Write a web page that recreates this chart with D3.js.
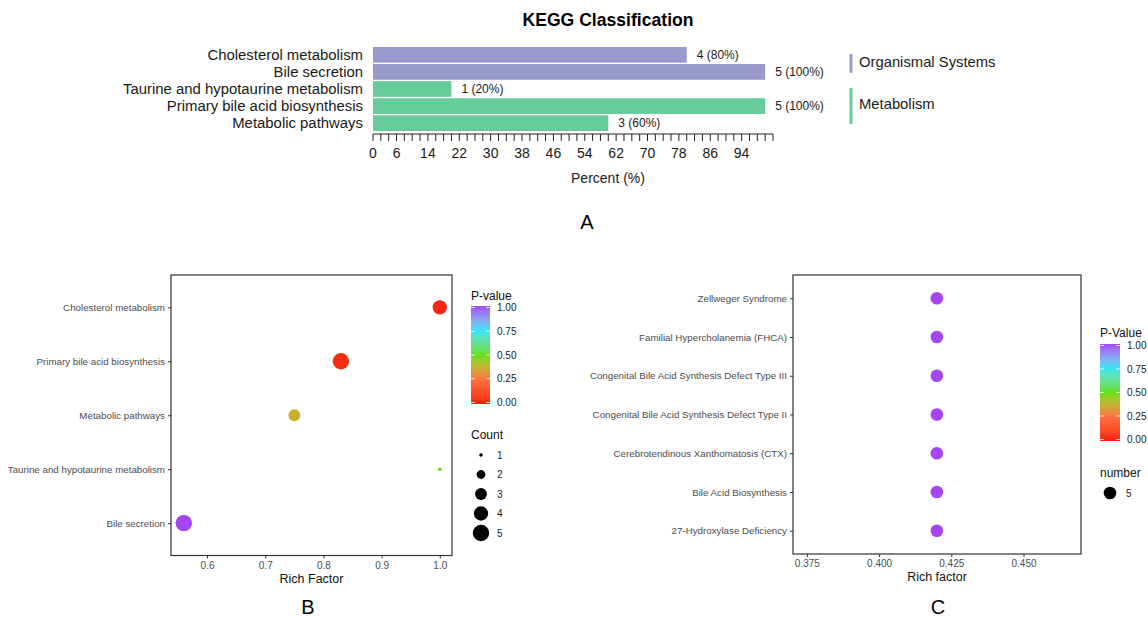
<!DOCTYPE html>
<html>
<head>
<meta charset="utf-8">
<script src="https://cdn.jsdelivr.net/npm/d3@7"></script>
<style>
body { margin: 0; background: #fff; }
svg { font-family: "Liberation Sans", Arial, Helvetica, sans-serif; }
</style>
</head>
<body>
<svg id="chart" width="1148" height="617"></svg>
<script>
// ---- data ----
var keggCats = ["Cholesterol metabolism", "Bile secretion", "Taurine and hypotaurine metabolism", "Primary bile acid biosynthesis", "Metabolic pathways"];
var keggGroup = ["Organismal Systems", "Organismal Systems", "Metabolism", "Metabolism", "Metabolism"];
var keggCount = [4, 5, 1, 5, 3];
var keggPercent = [80, 100, 20, 100, 60];
var groupNames = ["Organismal Systems", "Metabolism"];
var groupColors = ["#9999cc", "#66cc99"];
var pctTickLabels = [0, 6, 14, 22, 30, 38, 46, 54, 62, 70, 78, 86, 94];

var bPathways = ["Cholesterol metabolism", "Primary bile acid biosynthesis", "Metabolic pathways", "Taurine and hypotaurine metabolism", "Bile secretion"];
var bRich = [1.0, 0.83, 0.75, 1.0, 0.56];
var bCount = [4, 5, 3, 1, 5];
var bPvalue = [0.02, 0.03, 0.37, 0.5, 1.0];
var bTicks = [0.6, 0.7, 0.8, 0.9, 1.0];
var countLegend = [1, 2, 3, 4, 5];

var cPathways = ["Zellweger Syndrome", "Familial Hypercholanemia (FHCA)", "Congenital Bile Acid Synthesis Defect Type III", "Congenital Bile Acid Synthesis Defect Type II", "Cerebrotendinous Xanthomatosis (CTX)", "Bile Acid Biosynthesis", "27-Hydroxylase Deficiency"];
var cRich = [0.42, 0.42, 0.42, 0.42, 0.42, 0.42, 0.42];
var cPvalue = [1.0, 1.0, 1.0, 1.0, 1.0, 1.0, 1.0];
var cNumber = [5, 5, 5, 5, 5, 5, 5];
var cTicks = [0.375, 0.4, 0.425, 0.45];
var pTicks = [0, 0.25, 0.5, 0.75, 1.0];

var svg = d3.select("#chart");

// p-value colour scale (red -> orange -> green -> cyan -> purple)
var pColor = d3.scaleLinear()
  .domain([0, 0.25, 0.5, 0.75, 1])
  .range(["#f51c0c", "#ff7040", "#62e01c", "#36e4f4", "#a446f2"])
  .interpolate(d3.interpolateLab);

// ---------------- Panel A ----------------
svg.append("text").attr("x", 608).attr("y", 26).attr("text-anchor", "middle")
  .style("font-size", "17.6px").style("font-weight", "bold").text("KEGG Classification");

var xA = d3.scaleLinear().domain([0, 102]).range([373, 773]);
var yA = d3.scaleBand().domain(keggCats).range([47, 131]).paddingInner(0.08);
var gColor = d3.scaleOrdinal().domain(groupNames).range(groupColors);

var topRows = keggCats.map(function(c, i) {
  return {cat: c, group: keggGroup[i], count: keggCount[i], pct: keggPercent[i]};
});

svg.append("g").selectAll("rect").data(topRows).enter().append("rect")
  .attr("x", xA(0))
  .attr("y", function(d) { return yA(d.cat); })
  .attr("width", function(d) { return xA(d.pct) - xA(0); })
  .attr("height", yA.bandwidth())
  .attr("fill", function(d) { return gColor(d.group); });

svg.append("g").selectAll("text").data(topRows).enter().append("text")
  .attr("x", 363)
  .attr("y", function(d) { return yA(d.cat) + yA.bandwidth() / 2; })
  .attr("dy", "0.35em").attr("text-anchor", "end")
  .style("font-size", "14.9px").style("fill", "#1a1a1a")
  .text(function(d) { return d.cat; });

svg.append("g").selectAll("text").data(topRows).enter().append("text")
  .attr("x", function(d) { return xA(d.pct) + 10; })
  .attr("y", function(d) { return yA(d.cat) + yA.bandwidth() / 2; })
  .attr("dy", "0.35em")
  .style("font-size", "12px").style("fill", "#1a1a1a")
  .text(function(d) { return d.count + " (" + d.pct + "%)"; });

// percent axis: ticks every 2, labels only on some
var axA = svg.append("g").attr("transform", "translate(0,134)");
axA.append("line").attr("x1", xA(0)).attr("x2", xA(102)).attr("stroke", "#222").attr("stroke-width", 1.2);
axA.selectAll("line.tk").data(d3.range(0, 103, 2)).enter().append("line").attr("class", "tk")
  .attr("x1", function(d) { return xA(d); }).attr("x2", function(d) { return xA(d); })
  .attr("y1", 0).attr("y2", 7).attr("stroke", "#222").attr("stroke-width", 1);
axA.selectAll("text").data(pctTickLabels).enter().append("text")
  .attr("x", function(d) { return xA(d); }).attr("y", 24)
  .attr("text-anchor", "middle").style("font-size", "14px").style("fill", "#1a1a1a")
  .text(function(d) { return d; });
svg.append("text").attr("x", 608).attr("y", 183).attr("text-anchor", "middle")
  .style("font-size", "14px").style("fill", "#1a1a1a").text("Percent (%)");

// group legend
groupNames.forEach(function(g) {
  var cats = keggCats.filter(function(c, i) { return keggGroup[i] === g; });
  var y0 = yA(cats[0]) + 7;
  var y1 = yA(cats[cats.length - 1]) + yA.bandwidth() - 7;
  svg.append("line").attr("x1", 851).attr("x2", 851).attr("y1", y0).attr("y2", y1)
    .attr("stroke", gColor(g)).attr("stroke-width", 3);
  svg.append("text").attr("x", 859).attr("y", (y0 + y1) / 2 - 2).attr("dy", "0.35em")
    .style("font-size", "14.8px").style("fill", "#1a1a1a").text(g);
});

svg.append("text").attr("x", 587).attr("y", 229).attr("text-anchor", "middle")
  .style("font-size", "20px").text("A");

// ---------------- helpers for dot plots ----------------
function gradientBar(id, x, y, w, h) {
  var grad = svg.append("defs").append("linearGradient").attr("id", id)
    .attr("x1", 0).attr("y1", 1).attr("x2", 0).attr("y2", 0);
  d3.range(0, 1.001, 0.05).forEach(function(t) {
    grad.append("stop").attr("offset", t).attr("stop-color", pColor(t));
  });
  svg.append("rect").attr("x", x).attr("y", y).attr("width", w).attr("height", h)
    .attr("fill", "url(#" + id + ")");
  var py = d3.scaleLinear().domain([0, 1]).range([y + h - 1.5, y + 1.5]);
  pTicks.forEach(function(t) {
    svg.append("line").attr("x1", x).attr("x2", x + 4).attr("y1", py(t)).attr("y2", py(t))
      .attr("stroke", "#fff").attr("stroke-width", 1).attr("opacity", 0.8);
    svg.append("line").attr("x1", x + w - 4).attr("x2", x + w).attr("y1", py(t)).attr("y2", py(t))
      .attr("stroke", "#fff").attr("stroke-width", 1).attr("opacity", 0.8);
    svg.append("text").attr("x", x + w + 7).attr("y", py(t)).attr("dy", "0.35em")
      .style("font-size", "10px").style("fill", "#1a1a1a").text(d3.format(".2f")(t));
  });
}

function dotPanel(opt) {
  var x = d3.scaleLinear().domain(opt.xDomain).range([opt.left, opt.right]);
  var y = d3.scalePoint().domain(opt.cats).range([opt.top, opt.bottom]).padding(0.6);
  var g = svg.append("g");

  var xAxis = d3.axisBottom(x).tickValues(opt.ticks).tickFormat(d3.format(opt.fmt)).tickSize(3).tickPadding(3);
  var gx = g.append("g").attr("transform", "translate(0," + opt.bottom + ")").call(xAxis);
  gx.select(".domain").remove();
  gx.selectAll("line").attr("stroke", "#333");
  gx.selectAll("text").style("font-size", "10px").style("fill", "#4d4d4d").style("font-family", "inherit");

  var yAxis = d3.axisLeft(y).tickSize(3).tickPadding(3);
  var gy = g.append("g").attr("transform", "translate(" + opt.left + ",0)").call(yAxis);
  gy.select(".domain").remove();
  gy.selectAll("line").attr("stroke", "#333");
  gy.selectAll("text").style("font-size", "9.75px").style("fill", "#4d4d4d").style("font-family", "inherit");

  g.selectAll("circle").data(opt.rows).enter().append("circle")
    .attr("cx", function(d) { return x(d.rich); })
    .attr("cy", function(d) { return y(d.name); })
    .attr("r", function(d) { return opt.size(d.count); })
    .attr("fill", function(d) { return pColor(d.p); });

  g.append("rect").attr("x", opt.left).attr("y", opt.top)
    .attr("width", opt.right - opt.left).attr("height", opt.bottom - opt.top)
    .attr("fill", "none").attr("stroke", "#333").attr("stroke-width", 1.2);

  g.append("text").attr("x", (opt.left + opt.right) / 2).attr("y", opt.bottom + 27)
    .attr("text-anchor", "middle").style("font-size", "12.5px").style("fill", "#111").text(opt.xLabel);
}

// ---------------- Panel B ----------------
var sizeB = d3.scaleRadial().domain([1, 5]).range([1.8, 8.2]);
dotPanel({
  cats: bPathways, xDomain: [0.538, 1.021], left: 171, right: 452, top: 275, bottom: 555.5,
  ticks: bTicks, fmt: ".1f", xLabel: "Rich Factor", size: sizeB,
  rows: bPathways.map(function(n, i) { return {name: n, rich: bRich[i], count: bCount[i], p: bPvalue[i]}; })
});
svg.append("text").attr("x", 471).attr("y", 300).style("font-size", "12px").style("fill", "#111").text("P-value");
gradientBar("gradB", 471, 306, 19, 98);
svg.append("text").attr("x", 471).attr("y", 439).style("font-size", "12px").style("fill", "#111").text("Count");
var cl = svg.append("g").selectAll("g").data(countLegend).enter().append("g")
  .attr("transform", function(d, i) { return "translate(481," + (455 + i * 19.5) + ")"; });
cl.append("circle").attr("r", function(d) { return sizeB(d); }).attr("fill", "#000");
cl.append("text").attr("x", 16).attr("dy", "0.35em").style("font-size", "10px").style("fill", "#1a1a1a")
  .text(function(d) { return d; });
svg.append("text").attr("x", 308).attr("y", 614).attr("text-anchor", "middle").style("font-size", "20px").text("B");

// ---------------- Panel C ----------------
var sizeC = function() { return 6.3; };
dotPanel({
  cats: cPathways, xDomain: [0.3702, 0.4699], left: 793, right: 1081, top: 275, bottom: 554,
  ticks: cTicks, fmt: ".3f", xLabel: "Rich factor", size: sizeC,
  rows: cPathways.map(function(n, i) { return {name: n, rich: cRich[i], count: cNumber[i], p: cPvalue[i]}; })
});
svg.append("text").attr("x", 1100).attr("y", 337).style("font-size", "12px").style("fill", "#111").text("P-Value");
gradientBar("gradC", 1100, 344, 20, 97);
svg.append("text").attr("x", 1100).attr("y", 477).style("font-size", "12px").style("fill", "#111").text("number");
svg.append("circle").attr("cx", 1110).attr("cy", 493).attr("r", 6.3).attr("fill", "#000");
svg.append("text").attr("x", 1126).attr("y", 493).attr("dy", "0.35em").style("font-size", "10px").style("fill", "#1a1a1a").text(cNumber[0]);
svg.append("text").attr("x", 938).attr("y", 614).attr("text-anchor", "middle").style("font-size", "20px").text("C");
</script>
</body>
</html>
